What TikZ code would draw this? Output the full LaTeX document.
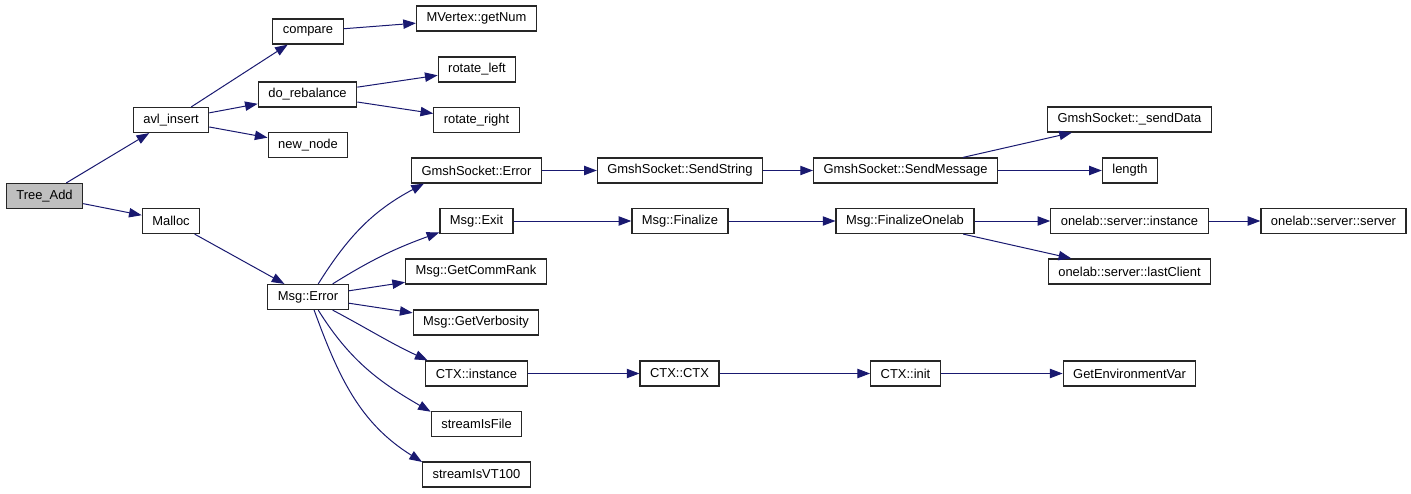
\documentclass[tikz,border=0pt]{standalone}
\usepackage{fontspec}
\setmainfont{Liberation Sans}
\usetikzlibrary{arrows.meta}
\definecolor{calledge}{HTML}{191970}
\definecolor{rootfill}{HTML}{BFBFBF}
\tikzset{
  fn/.style={draw=black!85, line width=0.9pt, fill=white, minimum height=18.75pt,
    inner xsep=7.5pt, inner ysep=0pt, font=\fontsize{9.7}{11}\selectfont},
  rootfn/.style={fn, fill=rootfill},
  call/.style={draw=calledge, line width=0.75pt, -{Triangle[length=9.5pt, width=7pt]}},
}
\begin{document}
\begin{tikzpicture}[x=0.75pt, y=-0.75pt]
  \useasboundingbox (0,0) rectangle (1411,493);

  \node[rootfn] (tree) at (44.5,196) {Tree\_Add};
  \node[fn] (avl) at (171,120) {avl\_insert};
  \node[fn] (malloc) at (171,221) {Malloc};

  \node[fn] (compare) at (308,31.5) {compare};
  \node[fn] (rebal) at (307.5,94.5) {do\_rebalance};
  \node[fn] (newnode) at (308,145) {new\_node};
  \node[fn] (msgerr) at (308,297) {Msg::Error};

  \node[fn] (getnum) at (476.5,18.5) {MVertex::getNum};
  \node[fn] (rotl) at (477,69.5) {rotate\_left};
  \node[fn] (rotr) at (476.5,120) {rotate\_right};
  \node[fn] (gserr) at (476.5,170.5) {GmshSocket::Error};
  \node[fn] (msgexit) at (476.5,221) {Msg::Exit};
  \node[fn] (commrank) at (476,271.5) {Msg::GetCommRank};
  \node[fn] (verb) at (476,322.5) {Msg::GetVerbosity};
  \node[fn] (ctxinst) at (476.5,373.5) {CTX::instance};
  \node[fn] (isfile) at (476.5,424) {streamIsFile};
  \node[fn] (isvt) at (476.5,474.5) {streamIsVT100};

  \node[fn] (sendstr) at (680,170.5) {GmshSocket::SendString};
  \node[fn] (finalize) at (680,221) {Msg::Finalize};
  \node[fn] (ctxctx) at (679.5,373.5) {CTX::CTX};

  \node[fn] (sendmsg) at (905.5,170.5) {GmshSocket::SendMessage};
  \node[fn] (finonelab) at (905,221) {Msg::FinalizeOnelab};
  \node[fn] (ctxinit) at (905.5,373.5) {CTX::init};

  \node[fn] (senddata) at (1129.5,119.5) {GmshSocket::\_sendData};
  \node[fn] (length) at (1130,170.5) {length};
  \node[fn] (olinst) at (1129.5,221) {onelab::server::instance};
  \node[fn] (lastclient) at (1129.5,271.5) {onelab::server::lastClient};
  \node[fn] (getenv) at (1129.5,373.5) {GetEnvironmentVar};

  \node[fn] (olserver) at (1333.5,221) {onelab::server::server};

  \draw[call] (tree) -- (avl);
  \draw[call] (tree) -- (malloc);
  \draw[call] (avl) -- (compare);
  \draw[call] (avl) -- (rebal);
  \draw[call] (avl) -- (newnode);
  \draw[call] (malloc) -- (msgerr);
  \draw[call] (compare) -- (getnum);
  \draw[call] (rebal) -- (rotl);
  \draw[call] (rebal) -- (rotr);

  \draw[call] (msgerr.52) to[out=58, in=208] (gserr.194);
  \draw[call] (msgerr.28) to[out=32, in=200] (msgexit.197);
  \draw[call] (msgerr) -- (commrank);
  \draw[call] (msgerr) -- (verb);
  \draw[call] (msgerr.-28) to[out=-28, in=155] (ctxinst.165);
  \draw[call] (msgerr.-52) to[out=-58, in=150] (isfile.165);
  \draw[call] (msgerr.-65) to[out=-70, in=148] (isvt.167);

  \draw[call] (gserr) -- (sendstr);
  \draw[call] (sendstr) -- (sendmsg);
  \draw[call] (sendmsg) -- (senddata);
  \draw[call] (sendmsg) -- (length);
  \draw[call] (msgexit) -- (finalize);
  \draw[call] (finalize) -- (finonelab);
  \draw[call] (finonelab) -- (olinst);
  \draw[call] (finonelab) -- (lastclient);
  \draw[call] (olinst) -- (olserver);
  \draw[call] (ctxinst) -- (ctxctx);
  \draw[call] (ctxctx) -- (ctxinit);
  \draw[call] (ctxinit) -- (getenv);
\end{tikzpicture}
\end{document}
